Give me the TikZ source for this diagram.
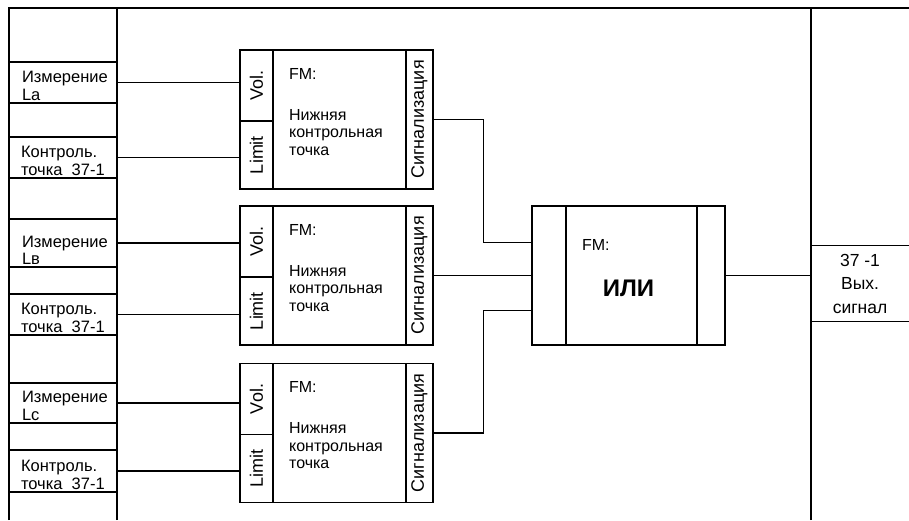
\documentclass[tikz,border=0pt]{standalone}
\usepackage{fontspec}
\setmainfont{Liberation Sans}
\usepackage{tikz}

\tikzset{
  every node/.style={font=\fontsize{16}{17.5}\selectfont},
  cell/.style={draw, minimum width=108pt, inner sep=0pt},
  celltext/.style={anchor=south west, align=left, inner sep=0pt, font=\fontsize{16.5}{17.5}\selectfont},
  fmbox/.style={draw, minimum width=193pt, minimum height=139pt, inner sep=0pt},
  volcell/.style={draw, minimum width=33pt, inner sep=0pt},
  sigcell/.style={draw, minimum width=27pt, minimum height=139pt, inner sep=0pt},
  vlabel/.style={rotate=90, font=\fontsize{18}{20}\selectfont},
  fmtext/.style={anchor=north west, align=left, inner sep=0pt},
}

\begin{document}
\begin{tikzpicture}[x=1pt,y=1pt,line width=1.1pt]
  \useasboundingbox (0,0) rectangle (909,520);
  % Rahmen
  \draw (9,0) -- (9,512) -- (909,512);
  \draw (117,0) -- (117,512);
  \draw (811,0) -- (811,512);

  % Eingaenge links
  \node[cell, minimum height=41pt] (a1) at (63,437.5) {};
  \node[celltext] (a1t) at ([shift={(13pt,2.5pt)}]a1.south west) {Измерение\\La};
  \node[cell, minimum height=41pt] (a2) at (63,362.5) {};
  \node[celltext] (a2t) at ([shift={(12pt,2.5pt)}]a2.south west) {Контроль.\\точка~ 37-1};
  \node[cell, minimum height=48pt] (b1) at (63,277) {};
  \node[celltext] (b1t) at ([shift={(13pt,2.5pt)}]b1.south west) {Измерение\\Lв};
  \node[cell, minimum height=41pt] (b2) at (63,205.5) {};
  \node[celltext] (b2t) at ([shift={(12pt,2.5pt)}]b2.south west) {Контроль.\\точка~ 37-1};
  \node[cell, minimum height=40pt] (c1) at (63,117) {};
  \node[celltext] (c1t) at ([shift={(13pt,2.5pt)}]c1.south west) {Измерение\\Lc};
  \node[cell, minimum height=42pt] (c2) at (63,49) {};
  \node[celltext] (c2t) at ([shift={(12pt,2.5pt)}]c2.south west) {Контроль.\\точка~ 37-1};

  % FM-Baustein 1
  \node[fmbox] (f1) at (336.5,400.5) {};
  \node[volcell, minimum height=71pt, anchor=north west, label={[vlabel]center:Vol.}] (v1) at (f1.north west) {};
  \node[volcell, minimum height=68pt, anchor=south west, label={[vlabel]center:Limit}] (l1) at (f1.south west) {};
  \node[sigcell, anchor=north east, label={[vlabel]center:Сигнализация}] (s1) at (f1.north east) {};
  \node[fmtext] (t1) at ([shift={(15pt,-18pt)}]v1.north east) {FM:\\[23.5pt]Нижняя\\контрольная\\точка};
  % FM-Baustein 2
  \node[fmbox] (f2) at (336.5,244.5) {};
  \node[volcell, minimum height=71pt, anchor=north west, label={[vlabel]center:Vol.}] (v2) at (f2.north west) {};
  \node[volcell, minimum height=68pt, anchor=south west, label={[vlabel]center:Limit}] (l2) at (f2.south west) {};
  \node[sigcell, anchor=north east, label={[vlabel]center:Сигнализация}] (s2) at (f2.north east) {};
  \node[fmtext] (t2) at ([shift={(15pt,-18pt)}]v2.north east) {FM:\\[23.5pt]Нижняя\\контрольная\\точка};
  % FM-Baustein 3
  \node[fmbox] (f3) at (336.5,87) {};
  \node[volcell, minimum height=71pt, anchor=north west, label={[vlabel]center:Vol.}] (v3) at (f3.north west) {};
  \node[volcell, minimum height=68pt, anchor=south west, label={[vlabel]center:Limit}] (l3) at (f3.south west) {};
  \node[sigcell, anchor=north east, label={[vlabel]center:Сигнализация}] (s3) at (f3.north east) {};
  \node[fmtext] (t3) at ([shift={(15pt,-18pt)}]v3.north east) {FM:\\[23.5pt]Нижняя\\контрольная\\точка};

  % Leitungen zu den Bausteinen
  \draw (a1.east) -- (a1.east -| v1.west);
  \draw (a2.east) -- (a2.east -| l1.west);
  \draw (b1.east) -- (b1.east -| v2.west);
  \draw (b2.east) -- (b2.east -| l2.west);
  \draw (c1.east) -- (c1.east -| v3.west);
  \draw (c2.east) -- (c2.east -| l3.west);

  % ODER-Baustein
  \node[fmbox] (orbox) at (628.5,244.5) {};
  \node[draw, minimum width=34pt, minimum height=139pt, inner sep=0pt, anchor=west] (orl) at (orbox.west) {};
  \node[draw, minimum width=28pt, minimum height=139pt, inner sep=0pt, anchor=east] (orr) at (orbox.east) {};
  \node[fmtext] (ort) at ([shift={(15pt,-33pt)}]orl.north east) {FM:};
  \node[font=\fontsize{24}{28}\selectfont\bfseries] (orx) at ([yshift=-13pt]orbox.center) {ИЛИ};
  \coordinate (in1) at ([yshift=33pt]orbox.west);
  \coordinate (in3) at ([yshift=-35pt]orbox.west);
  \draw (f1.east) -| ([xshift=-48pt]in1) -- (in1);
  \draw (f2.east) -- (orbox.west);
  \draw (f3.east) -| ([xshift=-48pt]in3) -- (in3);

  % Ausgang rechts
  \node[minimum width=98pt, minimum height=75pt, inner sep=0pt, align=center, font=\fontsize{17.5}{23.5}\selectfont] (out) at (860,236.5) {37 -1\\Вых.\\сигнал};
  \draw (out.north west) -- (out.north east);
  \draw (out.south west) -- (out.south east);
  \draw (orbox.east) -- (orbox.east -| out.west);
\end{tikzpicture}
\end{document}
